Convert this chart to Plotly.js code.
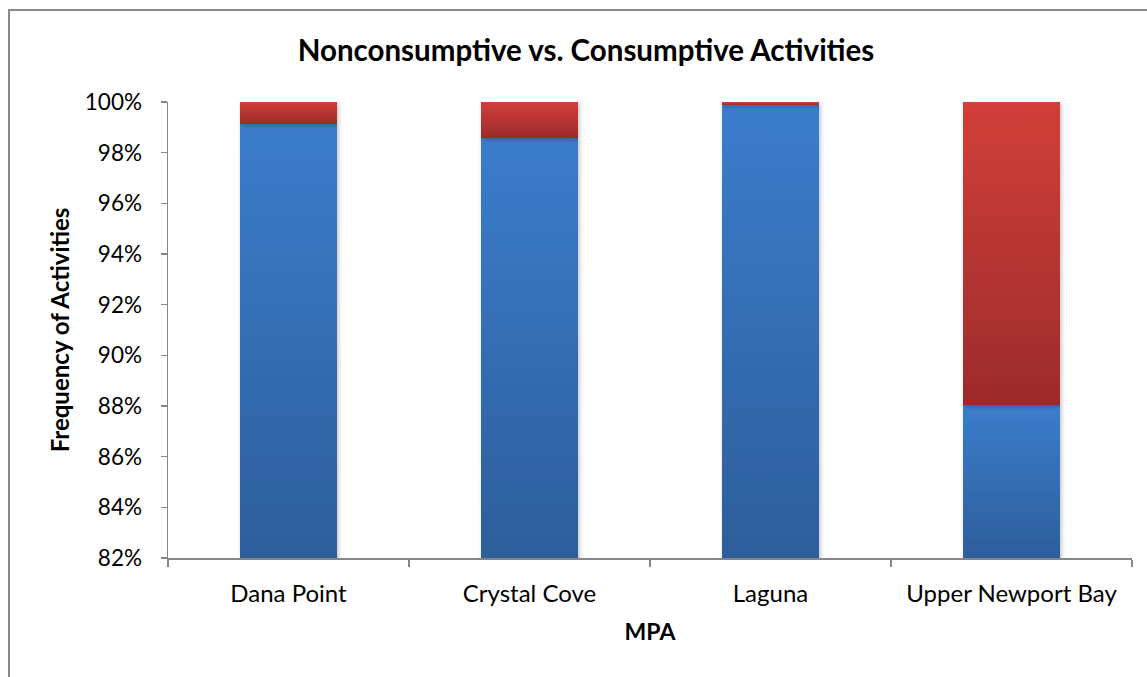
<!DOCTYPE html>
<html>
<head>
<meta charset="utf-8">
<script src="https://cdn.plot.ly/plotly-3.0.1.min.js"></script>
<style>
  html, body { margin: 0; padding: 0; background: #fff; }
  #chart { width: 1147px; height: 677px; }
</style>
</head>
<body>
<div id="chart"></div>
<script>
// ---- data ----
const categories = ['Dana Point', 'Crystal Cove', 'Laguna', 'Upper Newport Bay'];
const nonconsumptive = [99.15, 98.59, 99.87, 88.04];
const consumptive = [0.85, 1.41, 0.13, 11.96];
const yTickVals = [82, 84, 86, 88, 90, 92, 94, 96, 98, 100];
const yTickText = ['82%', '84%', '86%', '88%', '90%', '92%', '94%', '96%', '98%', '100%'];

const W = 1147, H = 677;
const mL = 168, mR = 15, mT = 102, mB = 119;
const pw = W - mL - mR, ph = H - mT - mB;
const FONT = 'Lato, "Noto Sans", sans-serif';

const traces = [
  { type: 'bar', x: categories, y: nonconsumptive, name: 'Nonconsumptive',
    marker: { color: '#3569b3', line: { width: 0 } }, hoverinfo: 'none' },
  { type: 'bar', x: categories, y: consumptive, name: 'Consumptive',
    marker: { color: '#b83532', line: { width: 0 } }, hoverinfo: 'none' }
];

const layout = {
  width: W, height: H,
  margin: { l: mL, r: mR, t: mT, b: mB, pad: 0 },
  barmode: 'stack',
  bargap: 0.6,
  showlegend: false,
  paper_bgcolor: '#ffffff',
  plot_bgcolor: '#ffffff',
  font: { family: FONT, color: '#000', size: 22 },
  title: {
    text: '<b>Nonconsumptive vs. Consumptive Activities</b>',
    font: { family: FONT, size: 29.5, color: '#000' },
    xref: 'container', x: 586 / W, xanchor: 'center',
    yref: 'container', y: 1 - 51 / H, yanchor: 'middle'
  },
  xaxis: {
    type: 'category',
    showgrid: false,
    showline: true, linecolor: '#868686', linewidth: 1.5,
    ticks: 'outside', tickson: 'boundaries', ticklen: 7, tickcolor: '#868686', tickwidth: 1.5,
    ticklabelstandoff: 14,
    tickfont: { family: FONT, size: 24, color: '#000' },
    title: { text: '<b>MPA</b>', font: { family: FONT, size: 23, color: '#000' }, standoff: 17 },
    zeroline: false, fixedrange: true
  },
  yaxis: {
    range: [82, 100],
    tickvals: yTickVals, ticktext: yTickText,
    showgrid: false, zeroline: false,
    showline: true, linecolor: '#868686', linewidth: 1.5,
    ticks: 'outside', ticklen: 6, tickcolor: '#868686', tickwidth: 1.5,
    ticklabelstandoff: 14,
    tickfont: { family: FONT, size: 22.5, color: '#000' },
    title: { text: '<b>Frequency of Activities</b>', font: { family: FONT, size: 24, color: '#000' }, standoff: 8 },
    fixedrange: true
  },
  shapes: [{
    type: 'rect', xref: 'paper', yref: 'paper',
    x0: (9 - mL) / pw, x1: (1160 - mL) / pw,
    y0: (mT + ph - 690) / ph, y1: (mT + ph - 10) / ph,
    line: { color: '#888888', width: 2 }, fillcolor: 'rgba(0,0,0,0)', layer: 'below'
  }]
};

Plotly.newPlot('chart', traces, layout, { staticPlot: true, displayModeBar: false }).then(function (gd) {
  const svg = gd.querySelector('.main-svg');
  const NS = 'http://www.w3.org/2000/svg';
  let defs = svg.querySelector('defs');
  if (!defs) { defs = document.createElementNS(NS, 'defs'); svg.insertBefore(defs, svg.firstChild); }
  const filt = document.createElementNS(NS, 'filter');
  filt.setAttribute('id', 'barShadow');
  filt.setAttribute('x', '-10%'); filt.setAttribute('y', '-10%');
  filt.setAttribute('width', '130%'); filt.setAttribute('height', '130%');
  const ds = document.createElementNS(NS, 'feDropShadow');
  ds.setAttribute('dx', '1.5'); ds.setAttribute('dy', '1.5');
  ds.setAttribute('stdDeviation', '2'); ds.setAttribute('flood-color', '#000');
  ds.setAttribute('flood-opacity', '0.25');
  filt.appendChild(ds); defs.appendChild(filt);

  const stopsByTrace = [
    ['#3b7dcc', '#2d5e9b'],
    ['#d23f3a', '#9c2b2b']
  ];
  const plotH = gd._fullLayout.yaxis._length;
  const traceGroups = gd.querySelectorAll('.barlayer .trace');
  traceGroups.forEach(function (tg, ti) {
    tg.querySelectorAll('path').forEach(function (p, pi) {
      const bb = p.getBBox();
      const yTop = Math.max(bb.y, 0);
      const yBot = Math.min(bb.y + bb.height, plotH);
      const id = 'g' + ti + '_' + pi;
      const lg = document.createElementNS(NS, 'linearGradient');
      lg.setAttribute('id', id);
      lg.setAttribute('gradientUnits', 'userSpaceOnUse');
      lg.setAttribute('x1', 0); lg.setAttribute('x2', 0);
      lg.setAttribute('y1', yTop); lg.setAttribute('y2', yBot);
      [[0, stopsByTrace[ti][0]], [1, stopsByTrace[ti][1]]].forEach(function (s) {
        const st = document.createElementNS(NS, 'stop');
        st.setAttribute('offset', s[0]);
        st.setAttribute('stop-color', s[1]);
        lg.appendChild(st);
      });
      defs.appendChild(lg);
      p.style.fill = 'url(#' + id + ')';
      p.style.fillOpacity = 1;
    });
    tg.setAttribute('filter', 'url(#barShadow)');
  });
});
</script>
</body>
</html>
